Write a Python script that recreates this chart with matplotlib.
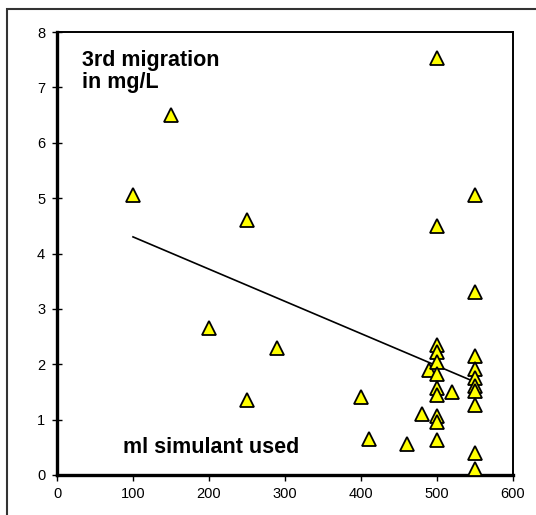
import matplotlib
matplotlib.use("Agg")
import matplotlib.pyplot as plt
from matplotlib.patches import Rectangle

# ml of simulant used vs 3rd migration (mg/L)
x_ml = [100, 150, 200, 250, 250, 290, 400, 410, 460, 480, 490,
        500, 500, 500, 500, 500, 500, 500, 500, 500, 500, 500,
        520,
        550, 550, 550, 550, 550, 550, 550, 550, 550, 550]
y_mig = [5.05, 6.5, 2.65, 4.6, 1.35, 2.3, 1.4, 0.65, 0.56, 1.1, 1.9,
         7.53, 4.5, 2.34, 2.22, 2.04, 1.83, 1.57, 1.44, 1.06, 0.95, 0.63,
         1.5,
         5.05, 3.3, 2.15, 1.92, 1.75, 1.6, 1.52, 1.27, 0.4, 0.1]

# trendline as drawn in the original
trend_x = [100, 550]
trend_y = [4.30, 1.68]

xticks = [0, 100, 200, 300, 400, 500, 600]
yticks = [0, 1, 2, 3, 4, 5, 6, 7, 8]

plt.rcParams['font.family'] = ['Liberation Sans', 'DejaVu Sans']

W, H = 536, 515
fig = plt.figure(figsize=(W / 100, H / 100), dpi=100)

# outer chart border (only left and top show in the picture)
fig.patches.append(Rectangle((7 / W, -0.1), 1.2, 1 - 9 / H + 0.1,
                             transform=fig.transFigure, fill=False,
                             edgecolor='#333333', linewidth=1.5))

ax = fig.add_axes([57 / W, 1 - 475 / H, (513 - 57) / W, (475 - 32) / H])

ax.plot(trend_x, trend_y, color='black', linewidth=1.2, zorder=2)
ax.plot(x_ml, y_mig, linestyle='none', marker='^', markersize=10.5,
        markerfacecolor='#FFFF00', markeredgecolor='black',
        markeredgewidth=1.3, zorder=3, clip_on=False)

ax.set_xlim(0, 600)
ax.set_ylim(0, 8)
ax.set_xticks(xticks)
ax.set_yticks(yticks)
ax.tick_params(axis='x', direction='out', length=4, width=1, labelsize=10.5, pad=5)
ax.tick_params(axis='y', direction='inout', length=7, width=1, labelsize=10.5, pad=5)

ax.spines['left'].set_linewidth(2.4)
ax.spines['bottom'].set_linewidth(2.4)
ax.spines['top'].set_linewidth(1.4)
ax.spines['right'].set_linewidth(1.4)

ax.text(33, 7.68, "3rd migration\nin mg/L", fontsize=15.5, fontweight='bold',
        va='top', ha='left', linespacing=1.1)
ax.text(87, 0.5, "ml simulant used", fontsize=15.5, fontweight='bold',
        va='center', ha='left')

fig.savefig("out.png", dpi=100)
